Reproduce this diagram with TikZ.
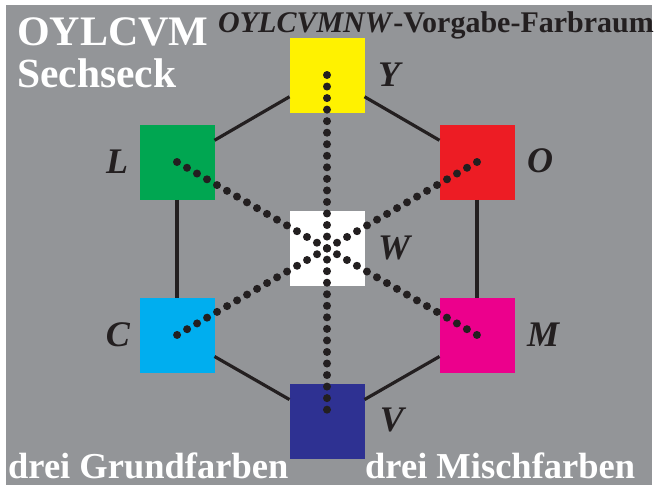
\documentclass[tikz,border=0pt]{standalone}
\usepackage{fontspec}
\setmainfont{Liberation Serif}
\definecolor{bggrey}{HTML}{939598}
\definecolor{cY}{HTML}{FFF200}
\definecolor{cL}{HTML}{00A651}
\definecolor{cO}{HTML}{ED1C24}
\definecolor{cC}{HTML}{00AEEF}
\definecolor{cM}{HTML}{EC008C}
\definecolor{cV}{HTML}{2E3192}
\definecolor{ink}{HTML}{231F20}
\tikzset{
  sq/.style={draw=none,minimum size=75pt,inner sep=0pt,outer sep=0pt},
  lab/.style={inner sep=0pt,text=ink,font=\fontsize{36}{36}\selectfont\bfseries\itshape},
  hexline/.style={draw=ink,line width=3.2pt},
  dotline/.style={draw=ink,line width=8pt,line cap=round,dash pattern=on 0pt off 11.54pt},
}
\begin{document}
\begin{tikzpicture}[x=1pt,y=-1pt]
\useasboundingbox (0,0) rectangle (658,488);
\fill[white] (0,0) rectangle (658,488);
\fill[bggrey] (6,5) rectangle (652,485);
% squares
\node[sq,fill=cY] (Y) at (327,75) {};
\node[sq,fill=cL] (L) at (177,162) {};
\node[sq,fill=cO] (O) at (477,162) {};
\node[sq,fill=white] (W) at (327,248) {};
\node[sq,fill=cC] (C) at (177,335) {};
\node[sq,fill=cM] (M) at (477,335) {};
\node[sq,fill=cV] (V) at (327,421) {};
% hexagon
\draw[hexline] (Y) -- (L);
\draw[hexline] (Y) -- (O);
\draw[hexline] (L) -- (C);
\draw[hexline] (O) -- (M);
\draw[hexline] (C) -- (V);
\draw[hexline] (M) -- (V);
% dotted diagonals
\draw[dotline] (Y.center) -- (V.center);
\draw[dotline] (L.center) -- (M.center);
\draw[dotline] (O.center) -- (C.center);
% labels
\node[lab] (lY) at (389,75) {Y};
\node[lab] (lL) at (117,162) {L};
\node[lab] (lO) at (540,161) {O};
\node[lab] (lW) at (394,248) {W};
\node[lab] (lC) at (118,335) {C};
\node[lab] (lM) at (543,335) {M};
\node[lab] (lV) at (392,420) {V};
% titles
\node[anchor=base west,inner sep=0pt,text=white,font=\fontsize{42}{42}\selectfont\bfseries] (t1) at (17,45) {OYLCVM};
\node[anchor=base west,inner sep=0pt,text=white,font=\fontsize{41.5}{41.5}\selectfont\bfseries] (t2) at (17,87) {Sechseck};
\node[anchor=base west,inner sep=0pt,text=ink,font=\fontsize{30}{30}\selectfont\bfseries] (t3) at (218,32) {\textit{OYLCVMNW}-Vorgabe-Farbraum};
\node[anchor=base west,inner sep=0pt,text=white,font=\fontsize{36.5}{36.5}\selectfont\bfseries] (b1) at (8,478) {drei Grundfarben};
\node[anchor=base west,inner sep=0pt,text=white,font=\fontsize{36.5}{36.5}\selectfont\bfseries] (b2) at (365,478) {drei Mischfarben};
\end{tikzpicture}
\end{document}
